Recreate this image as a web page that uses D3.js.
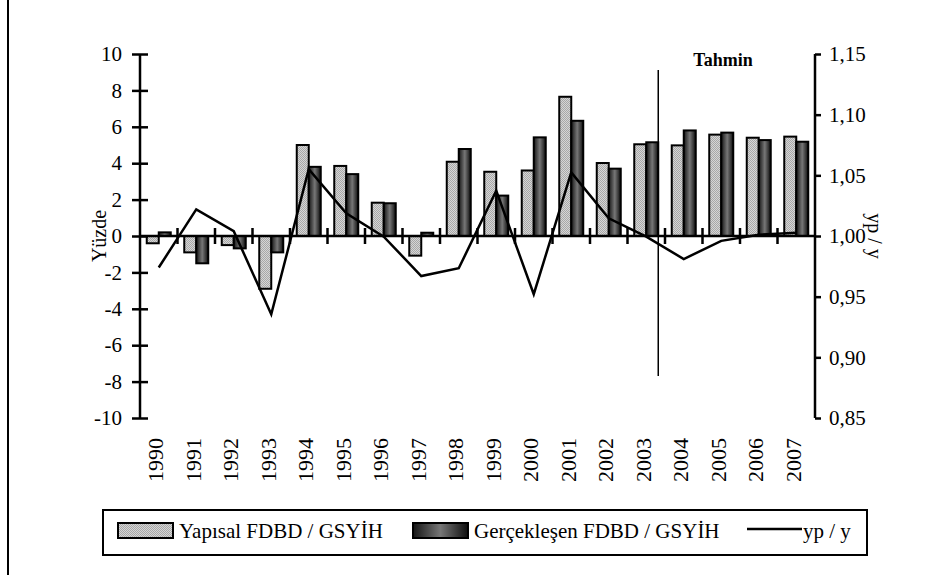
<!DOCTYPE html>
<html>
<head>
<meta charset="utf-8">
<script src="https://d3js.org/d3.v7.min.js"></script>
<style>
  body { margin: 0; background: #fff; }
  svg { display: block; }
  svg text { font-family: "Liberation Serif", "DejaVu Serif", serif; fill: #000; }
</style>
</head>
<body>
<svg id="chart" width="943" height="575"></svg>
<script>
// values
var years = ["1990","1991","1992","1993","1994","1995","1996","1997","1998","1999",
             "2000","2001","2002","2003","2004","2005","2006","2007"];
var yapisal = [-0.4, -0.9, -0.5, -2.9, 5.0, 3.85, 1.83, -1.08, 4.08, 3.53,
               3.6, 7.65, 4.01, 5.04, 4.98, 5.57, 5.4, 5.46];
var gerceklesen = [0.2, -1.5, -0.68, -0.9, 3.8, 3.4, 1.8, 0.18, 4.78, 2.22,
                   5.42, 6.33, 3.7, 5.15, 5.8, 5.68, 5.27, 5.18];
var ypy = [0.974, 1.022, 1.004, 0.9355, 1.055, 1.0187, 0.9995, 0.967, 0.9734, 1.0373,
           0.952, 1.0524, 1.0146, 0.9995, 0.981, 0.996, 1.001, 1.0027];
var leftTicks = [-10, -8, -6, -4, -2, 0, 2, 4, 6, 8, 10];
var rightTicks = [0.85, 0.90, 0.95, 1.00, 1.05, 1.10, 1.15];
var seriesNames = ["Yapısal FDBD / GSYİH", "Gerçekleşen FDBD / GSYİH", "yp / y"];
var forecastFrom = "2003";

function init(){

  var font = "Liberation Serif, DejaVu Serif, serif";
  var svg = d3.select("#chart");

  var left = 140, right = 815, top = 54, bottom = 418;

  var x = d3.scaleBand().domain(years).range([left, right]);
  var xSub = d3.scaleBand().domain([0, 1]).range([0, x.bandwidth()]).paddingOuter(0.5625);
  var yL = d3.scaleLinear().domain([-10, 10]).range([bottom, top]);
  var yR = d3.scaleLinear().domain([0.85, 1.15]).range([bottom, top]);

  // fills: dotted grey and a dark cylinder
  var defs = svg.append("defs");
  var pat = defs.append("pattern")
    .attr("id", "dots")
    .attr("width", 2).attr("height", 2)
    .attr("patternUnits", "userSpaceOnUse");
  pat.append("rect").attr("width", 2).attr("height", 2).attr("fill", "#d6d6d6");
  pat.append("rect").attr("width", 1).attr("height", 1).attr("fill", "#a8a8a8");
  pat.append("rect").attr("x", 1).attr("y", 1).attr("width", 1).attr("height", 1).attr("fill", "#a8a8a8");

  var grad = defs.append("linearGradient")
    .attr("id", "cyl")
    .attr("x1", "0%").attr("x2", "100%").attr("y1", "0%").attr("y2", "0%");
  grad.append("stop").attr("offset", "0%").attr("stop-color", "#151515");
  grad.append("stop").attr("offset", "50%").attr("stop-color", "#777");
  grad.append("stop").attr("offset", "100%").attr("stop-color", "#0d0d0d");

  // frame line on the left
  svg.append("line")
    .attr("x1", 8).attr("x2", 8).attr("y1", 0).attr("y2", 575)
    .attr("stroke", "#000").attr("stroke-width", 2);

  // bars
  var fills = ["url(#dots)", "url(#cyl)"];
  [yapisal, gerceklesen].forEach(function(vals, s){
    svg.append("g")
      .selectAll("rect")
      .data(vals)
      .enter().append("rect")
        .attr("x", function(d, i){ return x(years[i]) + xSub(s); })
        .attr("y", function(d){ return yL(Math.max(0, d)); })
        .attr("width", xSub.bandwidth())
        .attr("height", function(d){ return Math.abs(yL(d) - yL(0)); })
        .attr("fill", fills[s])
        .attr("stroke", "#000")
        .attr("stroke-width", 2);
  });

  // left axis, ticks cross the line
  var gl = svg.append("g")
    .attr("transform", "translate(" + left + ",0)")
    .call(d3.axisLeft(yL).tickValues(leftTicks).tickSize(8).tickPadding(10)
      .tickFormat(function(d){ return String(d); }));
  gl.selectAll(".tick line").attr("x1", 8);

  // right axis
  var gr = svg.append("g")
    .attr("transform", "translate(" + right + ",0)")
    .call(d3.axisRight(yR).tickValues(rightTicks).tickSize(6).tickPadding(8)
      .tickFormat(function(d){ return d3.format(".2f")(d).replace(".", ","); }));

  [gl, gr].forEach(function(g){
    g.attr("font-family", font).attr("font-size", 21);
    g.select(".domain").attr("stroke", "#000").attr("stroke-width", 2.5)
      .attr("d", "M0," + top + "V" + bottom);
    g.selectAll(".tick line").attr("stroke", "#000").attr("stroke-width", 2.5);
    g.selectAll(".tick text").attr("fill", "#000");
  });

  // zero line with ticks between the years
  svg.append("line")
    .attr("x1", left).attr("x2", right)
    .attr("y1", yL(0)).attr("y2", yL(0))
    .attr("stroke", "#000").attr("stroke-width", 2.5);
  svg.append("g")
    .selectAll("line")
    .data(years.slice(1))
    .enter().append("line")
      .attr("x1", function(d){ return x(d); })
      .attr("x2", function(d){ return x(d); })
      .attr("y1", yL(0) - 8).attr("y2", yL(0) + 8)
      .attr("stroke", "#000").attr("stroke-width", 2.5);

  // year labels
  svg.append("g")
    .selectAll("text")
    .data(years)
    .enter().append("text")
      .attr("transform", function(d){ return "translate(" + (x(d) + x.bandwidth() / 2 - 3) + ",438) rotate(-90)"; })
      .attr("dy", "0.35em")
      .attr("text-anchor", "end")
      .style("font-size", "22px")
      .text(function(d){ return d; });

  // yp / y line
  var line = d3.line()
    .x(function(d, i){ return x(years[i]) + x.bandwidth() / 2; })
    .y(function(d){ return yR(d); });
  svg.append("path")
    .datum(ypy)
    .attr("d", line)
    .attr("fill", "none")
    .attr("stroke", "#000")
    .attr("stroke-width", 2.5)
    .attr("stroke-linejoin", "miter");

  // forecast marker, just after the 2003 bars
  var fx = x(forecastFrom) + x.bandwidth() * 0.82;
  svg.append("line")
    .attr("x1", fx).attr("x2", fx).attr("y1", 70).attr("y2", 376)
    .attr("stroke", "#000").attr("stroke-width", 1.5);
  svg.append("text")
    .attr("x", 723).attr("y", 66)
    .attr("text-anchor", "middle")
    .style("font-size", "18px")
    .style("font-weight", "bold")
    .text("Tahmin");

  // axis titles
  svg.append("text")
    .attr("transform", "translate(106," + yL(0) + ") rotate(-90)")
    .attr("text-anchor", "middle")
    .style("font-size", "20px")
    .text("Yüzde");
  svg.append("text")
    .attr("transform", "translate(868," + yL(0) + ") rotate(90)")
    .attr("text-anchor", "middle")
    .style("font-size", "20px")
    .text("yp / y");

  // legend
  var lg = svg.append("g");
  lg.append("rect")
    .attr("x", 103).attr("y", 510).attr("width", 764).attr("height", 45)
    .attr("fill", "#fff").attr("stroke", "#000").attr("stroke-width", 2);

  var items = [
    {x: 118, name: seriesNames[0], fill: "url(#dots)"},
    {x: 413, name: seriesNames[1], fill: "url(#cyl)"}
  ];
  items.forEach(function(it){
    lg.append("rect")
      .attr("x", it.x).attr("y", 523).attr("width", 55).attr("height", 15)
      .attr("fill", it.fill).attr("stroke", "#000").attr("stroke-width", 2);
    lg.append("text")
      .attr("x", it.x + 61).attr("y", 538)
      .style("font-size", "21px")
      .text(it.name);
  });
  lg.append("line")
    .attr("x1", 747).attr("x2", 802).attr("y1", 529).attr("y2", 529)
    .attr("stroke", "#000").attr("stroke-width", 2.5);
  lg.append("text")
    .attr("x", 803).attr("y", 538)
    .style("font-size", "21px")
    .text(seriesNames[2]);
}

window.onload = init;
</script>
</body>
</html>
